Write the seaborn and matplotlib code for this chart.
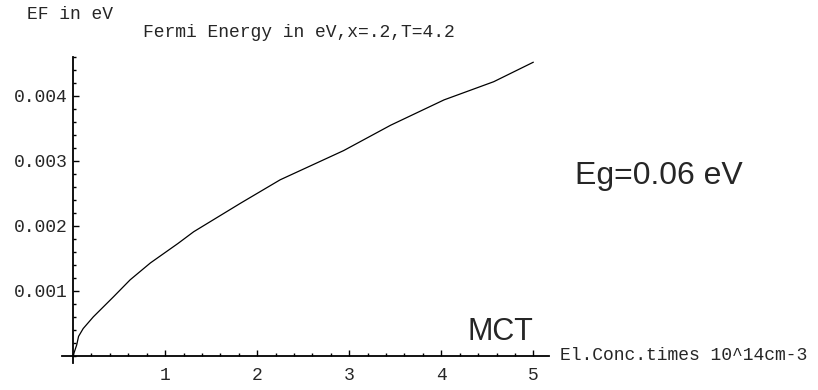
import matplotlib
matplotlib.use("Agg")
import matplotlib.pyplot as plt
import seaborn as sns
import pandas as pd
from matplotlib.ticker import MultipleLocator

# Data
conc = [0, 0.04, 0.06, 0.11, 0.22, 0.44, 0.62, 0.84, 1.14, 1.31, 1.82, 2.25,
        2.94, 3.45, 4.03, 4.57, 5.0]
ef = [0, 0.00017, 0.0003, 0.00042, 0.0006, 0.00091, 0.00117, 0.00143, 0.00173,
      0.00191, 0.00235, 0.00271, 0.00316, 0.00355, 0.00394, 0.00422, 0.00452]
xticks = [1, 2, 3, 4, 5]
xticklabels = ["1", "2", "3", "4", "5"]
yticks = [0.001, 0.002, 0.003, 0.004]
yticklabels = ["0.001", "0.002", "0.003", "0.004"]

df = pd.DataFrame({"conc": conc, "ef": ef})

sns.set_theme(style="white")
mono = ["Liberation Mono", "DejaVu Sans Mono"]
sans = ["Liberation Sans", "DejaVu Sans"]
plt.rcParams["font.family"] = mono

W, H = 818, 390
fig = plt.figure(figsize=(W / 100, H / 100), dpi=100)
ax = fig.add_axes([62 / W, (H - 363) / H, 487 / W, 306 / H])

sns.lineplot(data=df, x="conc", y="ef", ax=ax, color="black", linewidth=0.9)

ax.set_xlim(-0.12, 5.17)
ax.set_ylim(-0.00011, 0.0046)

for s in ["top", "right"]:
    ax.spines[s].set_visible(False)
ax.spines["left"].set_position(("data", 0))
ax.spines["bottom"].set_position(("data", 0))
for s in ["left", "bottom"]:
    ax.spines[s].set_color("black")
    ax.spines[s].set_linewidth(1.3)

ax.set_xticks(xticks)
ax.set_xticklabels(xticklabels)
ax.set_yticks(yticks)
ax.set_yticklabels(yticklabels)
ax.xaxis.set_minor_locator(MultipleLocator(0.2))
ax.yaxis.set_minor_locator(MultipleLocator(0.0002))

ax.tick_params(axis="x", which="major", direction="in", length=4, width=1.0,
               color="black", labelsize=13, pad=8, bottom=True)
ax.tick_params(axis="x", which="minor", direction="in", length=2.5, width=1.0,
               color="black", bottom=True)
ax.tick_params(axis="y", which="major", direction="in", length=4, width=1.0,
               color="black", labelsize=13, pad=4, left=True)
ax.tick_params(axis="y", which="minor", direction="in", length=2.5, width=1.0,
               color="black", left=True)
ax.set_xlabel("")
ax.set_ylabel("")

fig.text(27 / W, (H - 19) / H, "EF in eV", fontsize=13, family=mono,
         va="baseline", ha="left")
fig.text(143 / W, (H - 37) / H, "Fermi Energy in eV,x=.2,T=4.2", fontsize=13,
         family=mono, va="baseline", ha="left")
fig.text(560 / W, (H - 355) / H, "El.Conc.times 10^14cm-3", fontsize=13,
         family=mono, va="center", ha="left")

fig.text(575 / W, (H - 184) / H, "Eg=0.06 eV", fontsize=23, family=sans,
         va="baseline", ha="left")
fig.text(533 / W, (H - 340) / H, "MCT", fontsize=22, family=sans,
         va="baseline", ha="right")

fig.savefig("out.png", dpi=100, facecolor="white")
